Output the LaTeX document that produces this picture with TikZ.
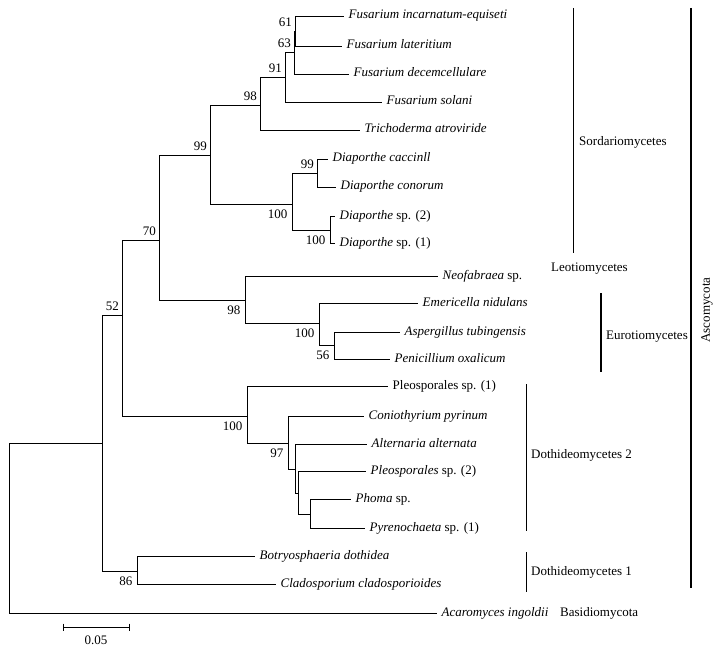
\documentclass[tikz,border=0pt]{standalone}
\usepackage{fontspec}
\setmainfont{Liberation Serif}

\begin{document}
\begin{tikzpicture}[x=1pt,y=-1pt,
  br/.style={line width=0.8pt},
  grpline/.style={line width=0.8pt},
  grpthick/.style={line width=1.7pt},
  leaf/.style={anchor=west,inner xsep=4.5pt,inner ysep=0pt,text height=9pt,text depth=3pt,font=\fontsize{13}{15}\selectfont},
  grp/.style={anchor=west,inner sep=0pt,text height=9pt,text depth=3pt,font=\fontsize{13}{15}\selectfont},
  bsup/.style={anchor=south east,inner sep=0pt,xshift=-3pt,yshift=4pt,font=\fontsize{13}{15}\selectfont},
  bsdown/.style={anchor=north east,inner sep=0pt,xshift=-4.5pt,yshift=-5.5pt,font=\fontsize{13}{15}\selectfont}]
\useasboundingbox (0,0) rectangle (719,652);

% inner nodes of the tree
\coordinate (r) at (9,443);
\coordinate (nA) at (102,443);
\coordinate (n52) at (122,315);
\coordinate (n70) at (159,240);
\coordinate (n99) at (210,155);
\coordinate (n98a) at (260,105);
\coordinate (n91) at (285,77);
\coordinate (n63) at (294,52);
\coordinate (n61) at (295,31);
\coordinate (n100a) at (292,204);
\coordinate (n99b) at (317,173);
\coordinate (n100b) at (330,230);
\coordinate (n98b) at (245,300);
\coordinate (n100c) at (319,323);
\coordinate (n56) at (334,345);
\coordinate (n100d) at (247,416);
\coordinate (n97) at (288,443);
\coordinate (nX) at (295,469);
\coordinate (nY) at (298,493);
\coordinate (nZ) at (310,514);
\coordinate (n86) at (137,571);

% leaves
\node[leaf] (fie) at (344,16) {\textit{Fusarium incarnatum-equiseti}};
\node[leaf] (fla) at (342,46) {\textit{Fusarium lateritium}};
\node[leaf] (fde) at (349,74) {\textit{Fusarium decemcellulare}};
\node[leaf] (fso) at (382,102) {\textit{Fusarium solani}};
\node[leaf] (tat) at (360,130) {\textit{Trichoderma atroviride}};
\node[leaf] (dca) at (328,159) {\textit{Diaporthe caccinll}};
\node[leaf] (dco) at (336,187) {\textit{Diaporthe conorum}};
\node[leaf] (dsb) at (335,216) {\textit{Diaporthe} sp. (2)};
\node[leaf] (dsa) at (335,243) {\textit{Diaporthe} sp. (1)};
\node[leaf] (neo) at (438,276) {\textit{Neofabraea} sp.};
\node[leaf] (eni) at (418,303) {\textit{Emericella nidulans}};
\node[leaf] (atu) at (400,332) {\textit{Aspergillus tubingensis}};
\node[leaf] (pox) at (390,359) {\textit{Penicillium oxalicum}};
\node[leaf] (psa) at (388,386) {Pleosporales sp. (1)};
\node[leaf] (cpy) at (364,416) {\textit{Coniothyrium pyrinum}};
\node[leaf] (aal) at (367,444) {\textit{Alternaria alternata}};
\node[leaf] (psb) at (366,471) {\textit{Pleosporales} sp. (2)};
\node[leaf] (pho) at (351,499) {\textit{Phoma} sp.};
\node[leaf] (pyr) at (365,528) {\textit{Pyrenochaeta} sp. (1)};
\node[leaf] (bdo) at (255,556) {\textit{Botryosphaeria dothidea}};
\node[leaf] (ccl) at (276,584) {\textit{Cladosporium cladosporioides}};
\node[leaf] (ain) at (437,613) {\textit{Acaromyces ingoldii}};

% branches
\draw[br] (r) -- (nA);
\draw[br] (r) |- (ain);
\draw[br] (nA) |- (n52);
\draw[br] (nA) |- (n86);
\draw[br] (n52) |- (n70);
\draw[br] (n52) |- (n100d);
\draw[br] (n70) |- (n99);
\draw[br] (n70) |- (n98b);
\draw[br] (n99) |- (n98a);
\draw[br] (n99) |- (n100a);
\draw[br] (n98a) |- (n91);
\draw[br] (n98a) |- (tat);
\draw[br] (n91) |- (n63);
\draw[br] (n91) |- (fso);
\draw[br] (n63) |- (n61);
\draw[br] (n63) |- (fde);
\draw[br] (n61) |- (fie);
\draw[br] (n61) |- (fla);
\draw[br] (n100a) |- (n99b);
\draw[br] (n100a) |- (n100b);
\draw[br] (n99b) |- (dca);
\draw[br] (n99b) |- (dco);
\draw[br] (n100b) |- (dsb);
\draw[br] (n100b) |- (dsa);
\draw[br] (n98b) |- (neo);
\draw[br] (n98b) |- (n100c);
\draw[br] (n100c) |- (eni);
\draw[br] (n100c) |- (n56);
\draw[br] (n56) |- (atu);
\draw[br] (n56) |- (pox);
\draw[br] (n100d) |- (psa);
\draw[br] (n100d) |- (n97);
\draw[br] (n97) |- (cpy);
\draw[br] (n97) |- (nX);
\draw[br] (nX) |- (aal);
\draw[br] (nX) |- (nY);
\draw[br] (nY) |- (psb);
\draw[br] (nY) |- (nZ);
\draw[br] (nZ) |- (pho);
\draw[br] (nZ) |- (pyr);
\draw[br] (n86) |- (bdo);
\draw[br] (n86) |- (ccl);

% bootstrap values
\node[bsup] at (n61) {61};
\node[bsup] at (n63) {63};
\node[bsup] at (n91) {91};
\node[bsup] at (n98a) {98};
\node[bsup] at (n99) {99};
\node[bsup] at (n99b) {99};
\node[bsup] at (n70) {70};
\node[bsup] at (n52) {52};
\node[bsdown] at (n100a) {100};
\node[bsdown] at (n100b) {100};
\node[bsdown] at (n98b) {98};
\node[bsdown] at (n100c) {100};
\node[bsdown] at (n56) {56};
\node[bsdown] at (n100d) {100};
\node[bsdown] at (n97) {97};
\node[bsdown] at (n86) {86};

% scale bar
\coordinate (sb1) at (63,627);
\coordinate (sb2) at (129,627);
\draw[br] (sb1) -- (sb2);
\draw[br] ([yshift=3.5pt]sb1) -- ([yshift=-3.5pt]sb1);
\draw[br] ([yshift=3.5pt]sb2) -- ([yshift=-3.5pt]sb2);
\node[font=\fontsize{13}{15}\selectfont,inner sep=0pt] (sbl) at (96,640) {0.05};

% groups
\draw[grpline] (573,8) -- (573,253);
\node[grp] (sor) at (579,143) {Sordariomycetes};
\node[grp] (leo) at (551,268) {Leotiomycetes};
\draw[grpthick] (601,293) -- (601,372);
\node[grp] (eur) at (606,336) {Eurotiomycetes};
\draw[grpline] (526,384) -- (526,531);
\node[grp] (dtb) at (531,455) {Dothideomycetes 2};
\draw[grpline] (526,552) -- (526,592);
\node[grp] (dta) at (531,572) {Dothideomycetes 1};
\draw[grpthick] (691,8) -- (691,588);
\node[font=\fontsize{13}{15}\selectfont,inner sep=0pt,rotate=90] (asc) at (707,310) {Ascomycota};
\node[grp] (bas) at (560,613) {Basidiomycota};
\end{tikzpicture}
\end{document}
